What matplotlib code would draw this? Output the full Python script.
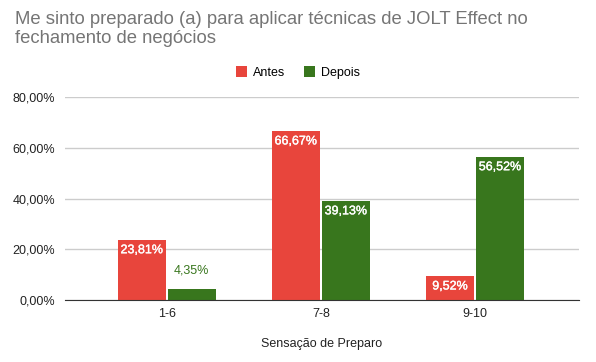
import numpy as np
import matplotlib.pyplot as plt
import matplotlib.patheffects as pe

plt.rcParams['font.family'] = ['Liberation Sans', 'DejaVu Sans']

# Data
categories = ['1-6', '7-8', '9-10']
antes = [23.81, 66.67, 9.52]
depois = [4.35, 39.13, 56.52]
yticks = [0, 20, 40, 60, 80]

red = '#e8453c'
green = '#38761d'

fig = plt.figure(figsize=(5.96, 3.62), dpi=100)
ax = fig.add_axes([0.109, 0.171, 0.8625, 0.561])

x = np.arange(len(categories))
w = 0.31
gap = 0.007
b1 = ax.bar(x - w / 2 - gap, antes, w, color=red, label='Antes', zorder=3)
b2 = ax.bar(x + w / 2 + gap, depois, w, color=green, label='Depois', zorder=3)

def fmt(v):
    return f"{v:.2f}".replace('.', ',') + '%'

# a bit heavier than regular, like the original labels
thick = [pe.withStroke(linewidth=0.25, foreground='white')]

for bars, vals, col in [(b1, antes, red), (b2, depois, green)]:
    for b, v in zip(bars, vals):
        cx = b.get_x() + b.get_width() / 2
        if v > 8:
            ax.text(cx, v - 1.8, fmt(v), ha='center', va='top', color='white',
                    fontsize=9, zorder=4, path_effects=thick)
        else:
            ax.text(cx, v + 7.5, fmt(v), ha='center', va='center', color=col,
                    fontsize=9, zorder=4)

ax.set_xlim(-0.66, 2.675)
ax.set_ylim(0, 80)
ax.set_yticks(yticks)
ax.set_yticklabels([f"{t:.2f}".replace('.', ',') + '%' for t in yticks])
ax.set_xticks(x)
ax.set_xticklabels(categories)
ax.tick_params(axis='both', length=0, labelsize=9, colors='#222222')
ax.tick_params(axis='y', pad=7)
ax.tick_params(axis='x', pad=6)
ax.grid(axis='y', color='#cccccc', linewidth=1, zorder=0)
for s in ['top', 'right', 'left']:
    ax.spines[s].set_visible(False)
ax.spines['bottom'].set_color('#333333')
ax.spines['bottom'].set_zorder(5)

ax.set_xlabel('Sensação de Preparo', fontsize=9, color='#222222', labelpad=13)

fig.text(0.025, 0.97, 'Me sinto preparado (a) para aplicar técnicas de JOLT Effect no\nfechamento de negócios',
         fontsize=13.3, color='#757575', ha='left', va='top', linespacing=1.2)

leg = fig.legend(loc='center', bbox_to_anchor=(0.5, 0.8), ncol=2, frameon=False,
                 fontsize=9, handlelength=0.9, handleheight=0.9, columnspacing=1.5,
                 handletextpad=0.5)

fig.savefig('out.png', dpi=100)
